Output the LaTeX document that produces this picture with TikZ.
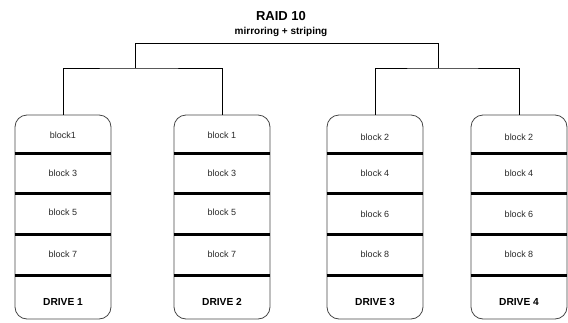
\documentclass[tikz,border=0pt]{standalone}
\usepackage{fontspec}
\setmainfont{Liberation Sans}
\usepackage{tikz}
\usetikzlibrary{positioning,calc}
\definecolor{drivegrey}{RGB}{70,70,70}
\definecolor{blocktext}{RGB}{40,40,40}

\begin{document}
\begin{tikzpicture}[x=1pt, y=-1pt,
    drive/.style={rectangle, draw=drivegrey, line width=0.8pt, rounded corners=12pt,
        minimum width=96pt, minimum height=204pt, inner sep=0pt},
    blk/.style={font=\fontsize{9}{10}\selectfont, text=blocktext},
    drvlabel/.style={font=\fontsize{10.2}{12}\selectfont\bfseries},
    sep/.style={line width=3pt, black},
    tree/.style={line width=0.7pt, black}
]
    \useasboundingbox (0,0) rectangle (568,322);

    \node[font=\fontsize{13}{15}\selectfont\bfseries] (title) at (281,16) {RAID 10};
    \node[font=\fontsize{10}{11}\selectfont\bfseries] (sub) at (281,32) {mirroring + striping};

    \node[drive] (d1) at (63,217) {};
    \node[drive] (d2) at (222,217) {};
    \node[drive] (d3) at (375,217) {};
    \node[drive] (d4) at (519,217) {};

    % tree
    \coordinate (j1) at (135,68);
    \coordinate (j2) at (438,68);
    \coordinate (top) at (135,43);
    \draw[tree] (d1.north) |- (j1) -| (d2.north);
    \draw[tree] (d3.north) |- (j2) -| (d4.north);
    \draw[tree] (j1) -- (top) -| (j2);

    % stripes
    \foreach \d in {d1,d2,d3,d4} {
        \foreach \y in {153,193,234,275} {
            \draw[sep] (\d.west |- 0,\y) -- (\d.east |- 0,\y);
        }
    }

    \node[blk] (b11) at (63,135) {block1};
    \node[blk] (b12) at (63,173) {block 3};
    \node[blk] (b13) at (63,212) {block 5};
    \node[blk] (b14) at (63,254) {block 7};
    \node[drvlabel] (l1) at (63,302) {DRIVE 1};

    \node[blk] (b21) at (222,135) {block 1};
    \node[blk] (b22) at (222,173) {block 3};
    \node[blk] (b23) at (222,212) {block 5};
    \node[blk] (b24) at (222,254) {block 7};
    \node[drvlabel] (l2) at (222,302) {DRIVE 2};

    \node[blk] (b31) at (375,137) {block 2};
    \node[blk] (b32) at (375,173) {block 4};
    \node[blk] (b33) at (375,214) {block 6};
    \node[blk] (b34) at (375,254) {block 8};
    \node[drvlabel] (l3) at (375,302) {DRIVE 3};

    \node[blk] (b41) at (519,137) {block 2};
    \node[blk] (b42) at (519,173) {block 4};
    \node[blk] (b43) at (519,214) {block 6};
    \node[blk] (b44) at (519,254) {block 8};
    \node[drvlabel] (l4) at (519,302) {DRIVE 4};
\end{tikzpicture}
\end{document}
